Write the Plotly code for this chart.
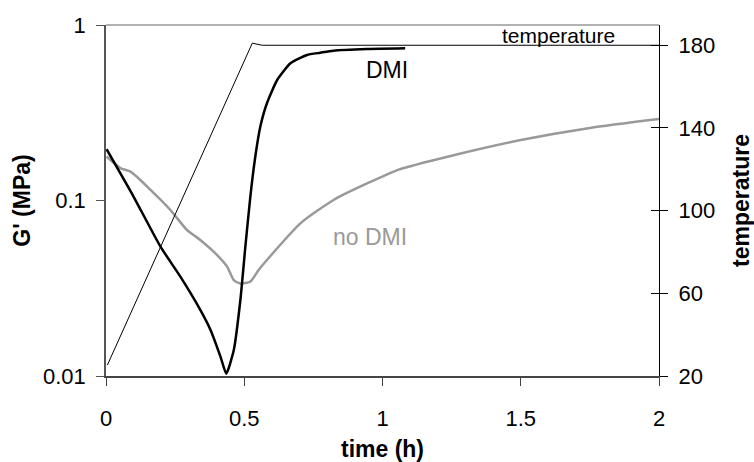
import plotly.graph_objects as go

# ---- data ----
time_dmi = [0.002, 0.10, 0.197, 0.269, 0.341, 0.378, 0.414, 0.435, 0.462, 0.486, 0.504,
            0.522, 0.540, 0.558, 0.582, 0.619, 0.667, 0.727, 0.775, 0.822, 0.944, 1.082]
g_dmi = [0.196, 0.105, 0.0546, 0.0368, 0.0238, 0.0183, 0.0129, 0.0103, 0.014, 0.0271, 0.0546,
         0.105, 0.178, 0.263, 0.358, 0.486, 0.605, 0.675, 0.695, 0.714, 0.730, 0.737]

time_nodmi = [0.002, 0.052, 0.089, 0.161, 0.233, 0.293, 0.341, 0.402, 0.438, 0.462, 0.486,
              0.522, 0.552, 0.582, 0.703, 0.823, 0.944, 1.064, 1.25, 1.5, 1.75, 2.0]
g_nodmi = [0.178, 0.153, 0.146, 0.115, 0.0883, 0.0679, 0.0596, 0.0489, 0.042, 0.0352, 0.0337,
           0.0345, 0.0402, 0.0458, 0.0741, 0.1007, 0.125, 0.151, 0.180, 0.221, 0.259, 0.291]

time_temp = [0.005, 0.529, 0.565, 2.0]
temperature = [25.3, 181.0, 180.0, 180.0]

x_ticks = [0, 0.5, 1, 1.5, 2]
x_ticktext = ["0", "0.5", "1", "1.5", "2"]
g_ticks = [0.01, 0.1, 1]
g_ticktext = ["0.01", "0.1", "1"]
t_ticks = [20, 60, 100, 140, 180]

FONT = "Liberation Sans, Arial, sans-serif"

fig = go.Figure()
fig.add_trace(go.Scatter(x=time_nodmi, y=g_nodmi, mode="lines",
                         line=dict(color="#999999", width=2.5, shape="spline", smoothing=0.6),
                         showlegend=False))
fig.add_trace(go.Scatter(x=time_dmi, y=g_dmi, mode="lines",
                         line=dict(color="black", width=2.5, shape="spline", smoothing=0.5),
                         showlegend=False))
fig.add_trace(go.Scatter(x=time_temp, y=temperature, mode="lines", yaxis="y2",
                         line=dict(color="black", width=1), showlegend=False))
# carrier trace for the inside ticks of the right axis
fig.add_trace(go.Scatter(x=time_temp, y=temperature, mode="lines", yaxis="y3",
                         line=dict(color="rgba(0,0,0,0)", width=1), showlegend=False,
                         hoverinfo="skip"))

fig.update_layout(
    width=754, height=462,
    margin=dict(l=105.5, r=95, t=25, b=86),
    paper_bgcolor="white", plot_bgcolor="white",
    font=dict(family=FONT, size=22, color="black"),
    xaxis=dict(range=[0, 2], tickvals=x_ticks, ticktext=x_ticktext, automargin=False,
               showline=True, linecolor="#444444", linewidth=1.5,
               ticks="outside", ticklen=8, tickcolor="#444444",
               showgrid=False, zeroline=False, ticklabelstandoff=14,
               title=dict(text="<b>time (h)</b>", font=dict(size=23), standoff=14)),
    yaxis=dict(type="log", range=[-2, 0], tickvals=g_ticks, ticktext=g_ticktext,
               automargin=False,
               showline=True, linecolor="#555555", linewidth=1.5,
               ticks="outside", ticklen=8, tickcolor="#555555",
               showgrid=False, zeroline=False, ticklabelstandoff=6,
               title=dict(text="<b>G' (MPa)</b>", font=dict(size=23), standoff=6)),
    yaxis2=dict(overlaying="y", side="right", range=[20, 189.8], tickvals=t_ticks,
                automargin=False,
                showline=True, linecolor="black", linewidth=1.2,
                ticks="outside", ticklen=8, tickcolor="black",
                showgrid=False, zeroline=False, ticklabelstandoff=6,
                title=dict(text="<b>temperature</b>", font=dict(size=23), standoff=18)),
    yaxis3=dict(overlaying="y", side="right", range=[20, 189.8], tickvals=t_ticks,
                automargin=False,
                showline=False, ticks="inside", ticklen=8, tickcolor="black",
                showticklabels=False, showgrid=False, zeroline=False),
    shapes=[dict(type="line", xref="paper", yref="paper", x0=0, x1=1, y0=1, y1=1,
                 line=dict(color="#999999", width=1.5))],
    annotations=[
        dict(text="temperature", x=1.635, y=184.9, xref="x", yref="y2",
             showarrow=False, font=dict(size=21, color="black")),
        dict(text="DMI", x=1.015, y=-0.259, xref="x", yref="y",
             showarrow=False, font=dict(size=23, color="black")),
        dict(text="no DMI", x=0.956, y=-1.208, xref="x", yref="y",
             showarrow=False, font=dict(size=23, color="#999999")),
    ],
)

fig.write_html("out.html")
